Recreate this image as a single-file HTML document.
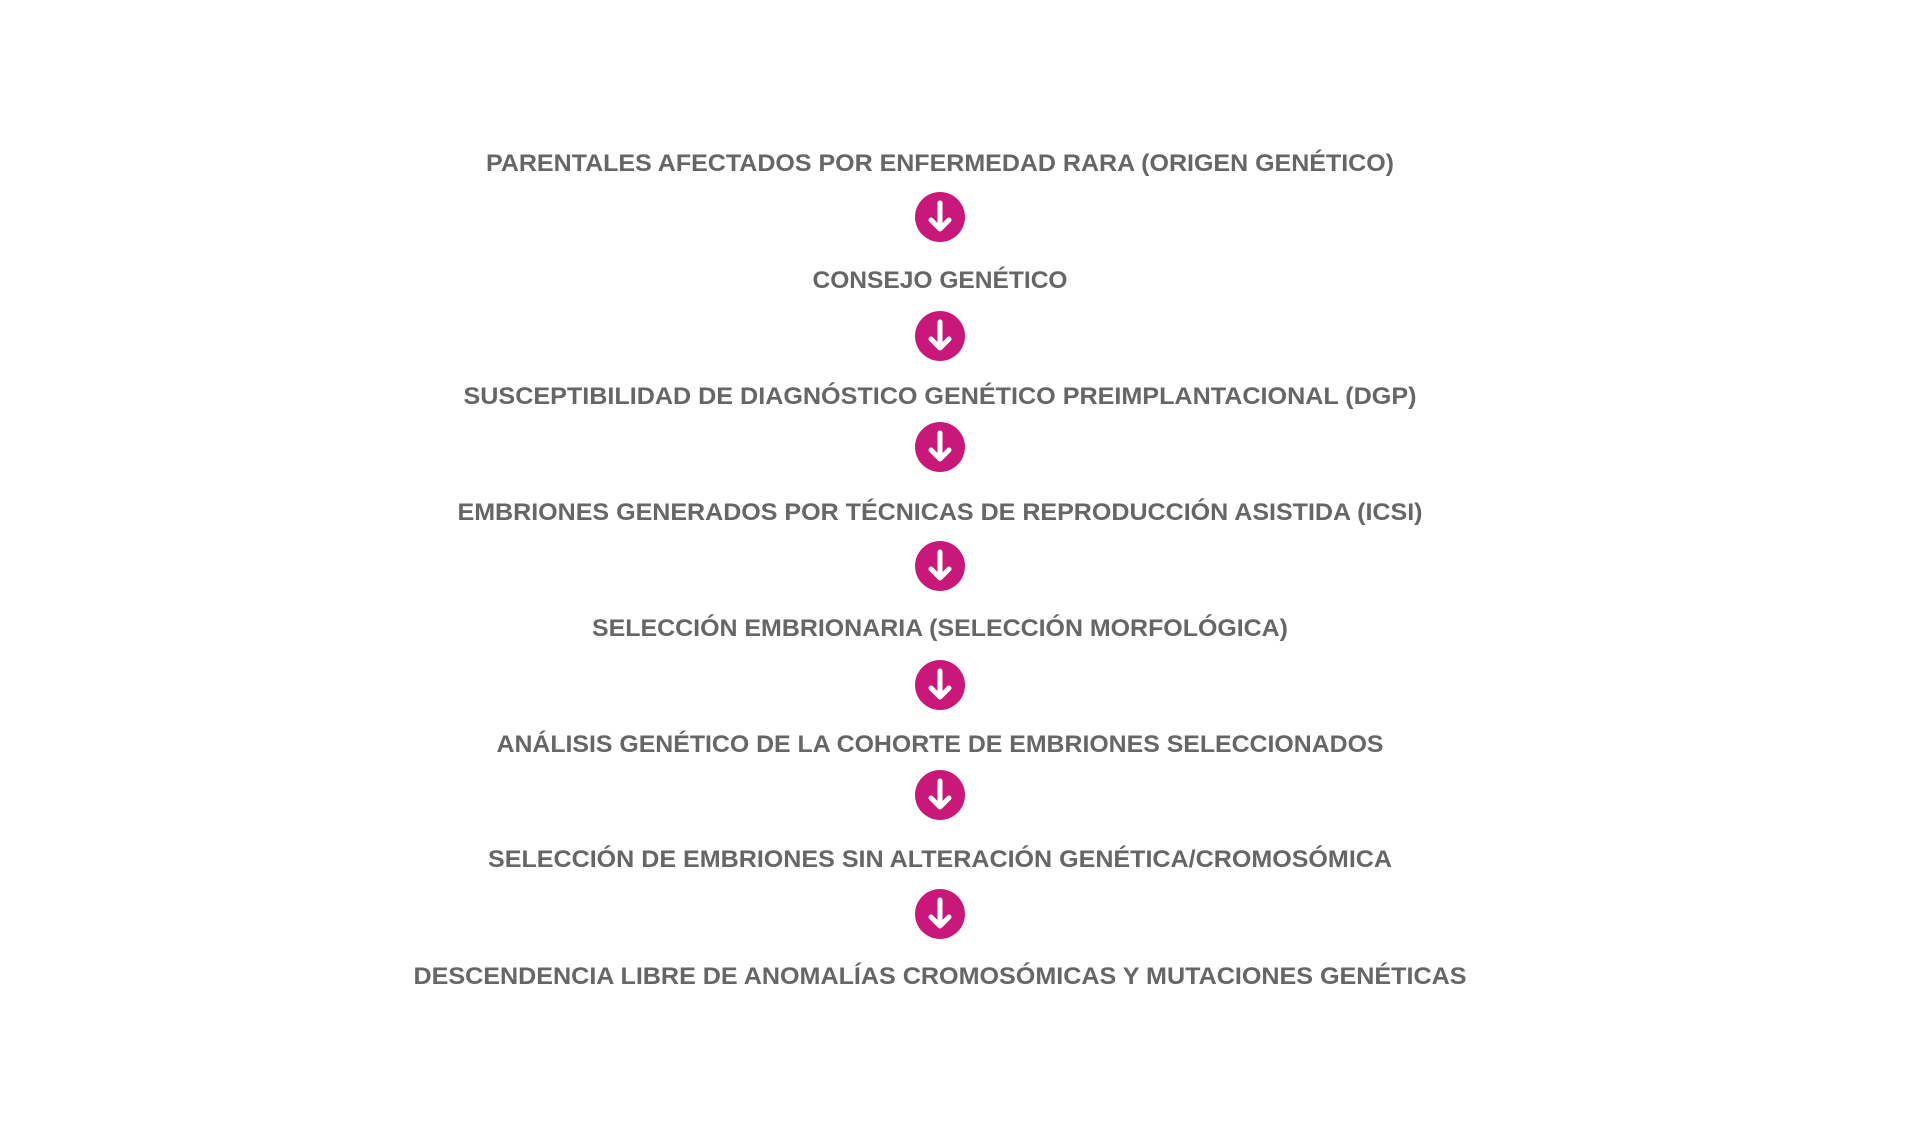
<!DOCTYPE html>
<html><head><meta charset="utf-8"><style>
html,body{margin:0;padding:0;background:#fff;}
svg{display:block}
text{font-family:"Liberation Sans",sans-serif;font-weight:bold;font-size:24px;fill:#666;}
</style></head><body>
<svg width="1920" height="1145" viewBox="0 0 1920 1145" xmlns="http://www.w3.org/2000/svg">
<defs>
<g id="a">
<circle cx="0" cy="0" r="25" fill="#c8197a"/>
<path d="M0 -14 V11 M-9 3 L0 12 L9 3" stroke="#fff" stroke-width="5" fill="none" stroke-linecap="round" stroke-linejoin="round"/>
</g>
</defs>
<text x="940" y="171" text-anchor="middle" textLength="908" lengthAdjust="spacingAndGlyphs">PARENTALES AFECTADOS POR ENFERMEDAD RARA (ORIGEN GENÉTICO)</text>
<text x="940" y="288" text-anchor="middle" textLength="255" lengthAdjust="spacingAndGlyphs">CONSEJO GENÉTICO</text>
<text x="940" y="404" text-anchor="middle" textLength="953" lengthAdjust="spacingAndGlyphs">SUSCEPTIBILIDAD DE DIAGNÓSTICO GENÉTICO PREIMPLANTACIONAL (DGP)</text>
<text x="940" y="520" text-anchor="middle" textLength="965" lengthAdjust="spacingAndGlyphs">EMBRIONES GENERADOS POR TÉCNICAS DE REPRODUCCIÓN ASISTIDA (ICSI)</text>
<text x="940" y="636" text-anchor="middle" textLength="696" lengthAdjust="spacingAndGlyphs">SELECCIÓN EMBRIONARIA (SELECCIÓN MORFOLÓGICA)</text>
<text x="940" y="752" text-anchor="middle" textLength="887" lengthAdjust="spacingAndGlyphs">ANÁLISIS GENÉTICO DE LA COHORTE DE EMBRIONES SELECCIONADOS</text>
<text x="940" y="867" text-anchor="middle" textLength="904" lengthAdjust="spacingAndGlyphs">SELECCIÓN DE EMBRIONES SIN ALTERACIÓN GENÉTICA/CROMOSÓMICA</text>
<text x="940" y="984" text-anchor="middle" textLength="1053" lengthAdjust="spacingAndGlyphs">DESCENDENCIA LIBRE DE ANOMALÍAS CROMOSÓMICAS Y MUTACIONES GENÉTICAS</text>
<use href="#a" x="940" y="217"/>
<use href="#a" x="940" y="336"/>
<use href="#a" x="940" y="447"/>
<use href="#a" x="940" y="566"/>
<use href="#a" x="940" y="685"/>
<use href="#a" x="940" y="795"/>
<use href="#a" x="940" y="914"/>
</svg>
</body></html>
